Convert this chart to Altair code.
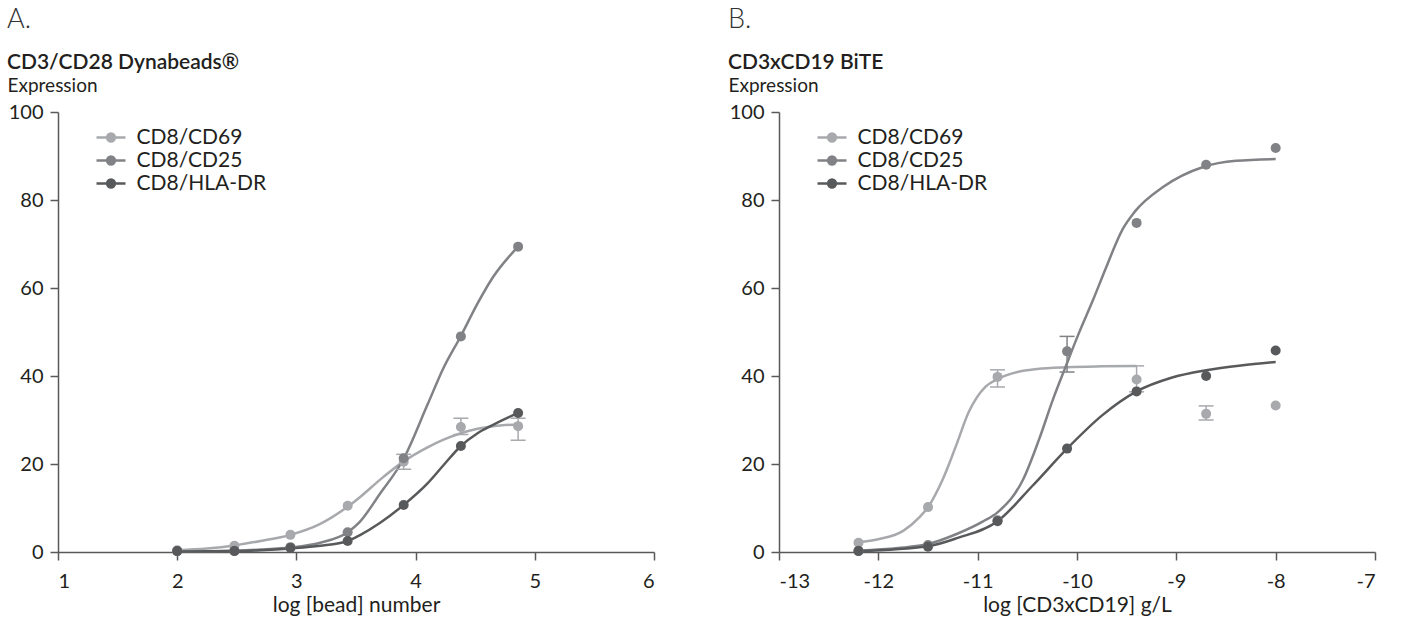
import altair as alt
import pandas as pd

FONT = "Lato"
SERIES = ["CD8/CD69", "CD8/CD25", "CD8/HLA-DR"]
COLORS = ["#a7a9ac", "#808285", "#58595b"]
TEXT = "#231f20"
AXIS = "#58595b"

# ---------------- Panel A : CD3/CD28 Dynabeads ----------------
a_x = [2.0, 2.48, 2.95, 3.43, 3.90, 4.38, 4.86]
a_cd69 = [0.4, 1.4, 3.9, 10.5, 20.5, 28.4, 28.6]
a_cd25 = [0.2, 0.3, 1.1, 4.5, 21.3, 49.0, 69.4]
a_hla = [0.2, 0.2, 0.9, 2.5, 10.7, 24.1, 31.6]

a_err_series = ["CD8/CD69", "CD8/CD69", "CD8/CD69"]
a_err_x = [3.90, 4.38, 4.86]
a_err_lo = [18.8, 26.7, 25.4]
a_err_hi = [22.2, 30.4, 30.4]

a_curve_x = [2.0, 2.25, 2.48, 2.7, 2.95, 3.2, 3.43, 3.53, 3.70, 3.90, 4.10, 4.23, 4.38, 4.52, 4.65, 4.86]
a_curve_cd69 = [0.4, 0.8, 1.5, 2.5, 3.9, 6.4, 10.3, 12.4, 16.4, 20.6, 23.8, 25.5, 27.0, 28.0, 28.6, 29.0]
a_curve_cd25 = [0.1, 0.15, 0.3, 0.55, 1.0, 2.1, 4.5, 6.8, 13.2, 21.2, 33.5, 41.6, 49.1, 56.5, 62.5, 69.4]
a_curve_hla = [0.1, 0.15, 0.2, 0.4, 0.8, 1.4, 2.5, 3.8, 6.6, 10.7, 15.6, 19.6, 24.1, 27.0, 28.9, 31.6]

# ---------------- Panel B : CD3xCD19 BiTE ----------------
b_x = [-12.2, -11.5, -10.8, -10.1, -9.4, -8.7, -8.0]
b_cd69 = [2.1, 10.2, 39.8, None, 39.2, 31.4, 33.3]
b_cd25 = [0.3, 1.6, 7.2, 45.6, 74.8, 88.0, 91.8]
b_hla = [0.2, 1.2, 7.0, 23.5, 36.5, 40.0, 45.8]

b_err_series = ["CD8/CD69", "CD8/CD69", "CD8/CD69", "CD8/CD25"]
b_err_x = [-10.8, -9.4, -8.7, -10.1]
b_err_lo = [37.5, 36.4, 30.0, 40.9]
b_err_hi = [41.4, 42.3, 33.2, 49.0]

b_curve_cd69_x = [-12.2, -12.0, -11.75, -11.59, -11.5, -11.35, -11.22, -11.09, -10.92, -10.8, -10.6, -10.4, -10.1, -9.75, -9.4]
b_curve_cd69 = [2.2, 2.9, 4.8, 7.8, 10.2, 16.6, 24.0, 31.8, 37.6, 39.3, 40.9, 41.6, 42.0, 42.2, 42.3]
b_curve_cd25_x = [-12.2, -11.8, -11.5, -11.2, -10.95, -10.8, -10.54, -10.38, -10.24, -10.12, -9.98, -9.84, -9.71, -9.54, -9.42, -9.13, -8.73, -8.4, -8.0]
b_curve_cd25 = [0.3, 0.9, 1.8, 4.2, 6.9, 9.0, 16.6, 25.7, 34.8, 41.8, 49.8, 57.2, 64.5, 73.4, 77.3, 83.0, 87.5, 88.9, 89.3]
b_curve_hla_x = [-12.2, -11.5, -11.2, -10.8, -10.45, -10.1, -9.75, -9.4, -9.05, -8.7, -8.35, -8.0]
b_curve_hla = [0.2, 1.3, 3.2, 7.0, 15.0, 23.5, 31.0, 36.5, 39.6, 41.3, 42.4, 43.2]

Y_TICKS = [0, 20, 40, 60, 80, 100]

# legend glyph: a short line with a (stroke-filled) dot in the middle
LEGEND_PATH = ("M-1.45,0H-0.39M0.39,0H1.45"
               "M0.39,0A0.39,0.39,0,1,0,-0.39,0A0.39,0.39,0,1,0,0.39,0"
               "M0.23,0A0.23,0.23,0,1,0,-0.23,0A0.23,0.23,0,1,0,0.23,0"
               "M0.09,0A0.09,0.09,0,1,0,-0.09,0A0.09,0.09,0,1,0,0.09,0")


def points_frame(xs, ys_by_series):
    rows = []
    for s, ys in zip(SERIES, ys_by_series):
        for x, y in zip(xs, ys):
            if y is not None:
                rows.append({"series": s, "x": x, "y": y})
    return pd.DataFrame(rows)


def curves_frame(xs_by_series, ys_by_series):
    rows = []
    for s, xs, ys in zip(SERIES, xs_by_series, ys_by_series):
        for x, y in zip(xs, ys):
            rows.append({"series": s, "x": x, "y": y})
    return pd.DataFrame(rows)


def err_frame(ss, xs, lo, hi):
    return pd.DataFrame({"series": ss, "x": xs, "lo": lo, "hi": hi})


def panel(letter, title, xtitle, xdomain, xticks, pts, curves, errs):
    cscale = alt.Scale(domain=SERIES, range=COLORS)
    xs = alt.Scale(domain=xdomain, nice=False, zero=False)
    ys = alt.Scale(domain=[0, 100], nice=False)
    xaxis = alt.Axis(values=xticks, title=xtitle, labelExpr="datum.value + ''",
                     grid=False, labelPadding=11, titlePadding=3, titleFontSize=21)
    yaxis = alt.Axis(values=Y_TICKS, title="Expression", grid=False, labelPadding=7,
                     titleAngle=0, titleAlign="left", titleBaseline="alphabetic",
                     titleFontSize=19, titleX=-51, titleY=-21)
    leg = alt.Legend(title=None, orient="none", legendX=41.5, legendY=14,
                     symbolType=LEGEND_PATH, symbolSize=400, symbolStrokeWidth=2.5,
                     labelFontSize=21, labelColor=TEXT, labelFont=FONT,
                     labelOffset=14, rowPadding=1)

    lines = alt.Chart(curves).mark_line(interpolate="monotone", strokeWidth=2.5).encode(
        x=alt.X("x:Q", scale=xs, axis=xaxis),
        y=alt.Y("y:Q", scale=ys, axis=yaxis),
        color=alt.Color("series:N", scale=cscale, legend=leg),
    )
    rules = alt.Chart(errs).mark_rule(strokeWidth=1.5).encode(
        x="x:Q", y="lo:Q", y2="hi:Q",
        color=alt.Color("series:N", scale=cscale, legend=None),
    )
    cap_lo = alt.Chart(errs).mark_tick(orient="horizontal", size=15, thickness=1.5, opacity=1).encode(
        x="x:Q", y="lo:Q",
        color=alt.Color("series:N", scale=cscale, legend=None),
    )
    cap_hi = alt.Chart(errs).mark_tick(orient="horizontal", size=15, thickness=1.5, opacity=1).encode(
        x="x:Q", y="hi:Q",
        color=alt.Color("series:N", scale=cscale, legend=None),
    )
    points = alt.Chart(pts).mark_point(filled=True, size=100, opacity=1).encode(
        x="x:Q", y="y:Q",
        color=alt.Color("series:N", scale=cscale, legend=None),
    )
    return alt.layer(lines, rules, cap_lo, cap_hi, points).properties(
        width=596, height=440,
        title=alt.TitleParams(text=letter, subtitle=title, anchor="start", frame="bounds",
                              fontSize=27, fontWeight=300, color="#333333", font=FONT,
                              subtitleFontSize=21, subtitleFontWeight=600, subtitleColor=TEXT,
                              subtitleFont=FONT, subtitlePadding=18, offset=2),
    )


pa = points_frame(a_x, [a_cd69, a_cd25, a_hla])
ca = curves_frame([a_curve_x] * 3, [a_curve_cd69, a_curve_cd25, a_curve_hla])
ea = err_frame(a_err_series, a_err_x, a_err_lo, a_err_hi)

pb = points_frame(b_x, [b_cd69, b_cd25, b_hla])
cb = curves_frame([b_curve_cd69_x, b_curve_cd25_x, b_curve_hla_x],
                  [b_curve_cd69, b_curve_cd25, b_curve_hla])
eb = err_frame(b_err_series, b_err_x, b_err_lo, b_err_hi)

chart_a = panel("A.", "CD3/CD28 Dynabeads®", "log [bead] number", [1, 6], [1, 2, 3, 4, 5, 6], pa, ca, ea)
chart_b = panel("B.", "CD3xCD19 BiTE", "log [CD3xCD19] g/L", [-13, -7], [-13, -12, -11, -10, -9, -8, -7], pb, cb, eb)

chart = alt.hconcat(chart_a, chart_b, spacing=73).resolve_scale(
    color="independent"
).resolve_legend(
    color="independent"
).properties(
    padding={"left": 7, "top": 6, "right": 5, "bottom": 5}
).configure(font=FONT).configure_view(stroke=None).configure_axis(
    domainColor=AXIS, domainWidth=1.5, tickColor=AXIS, tickWidth=1.5, tickSize=8,
    labelFontSize=20, labelColor=TEXT, labelFont=FONT,
    titleFontWeight="normal", titleColor=TEXT, titleFont=FONT,
)

chart.save("out.html", embed_options={"renderer": "svg", "actions": False})
